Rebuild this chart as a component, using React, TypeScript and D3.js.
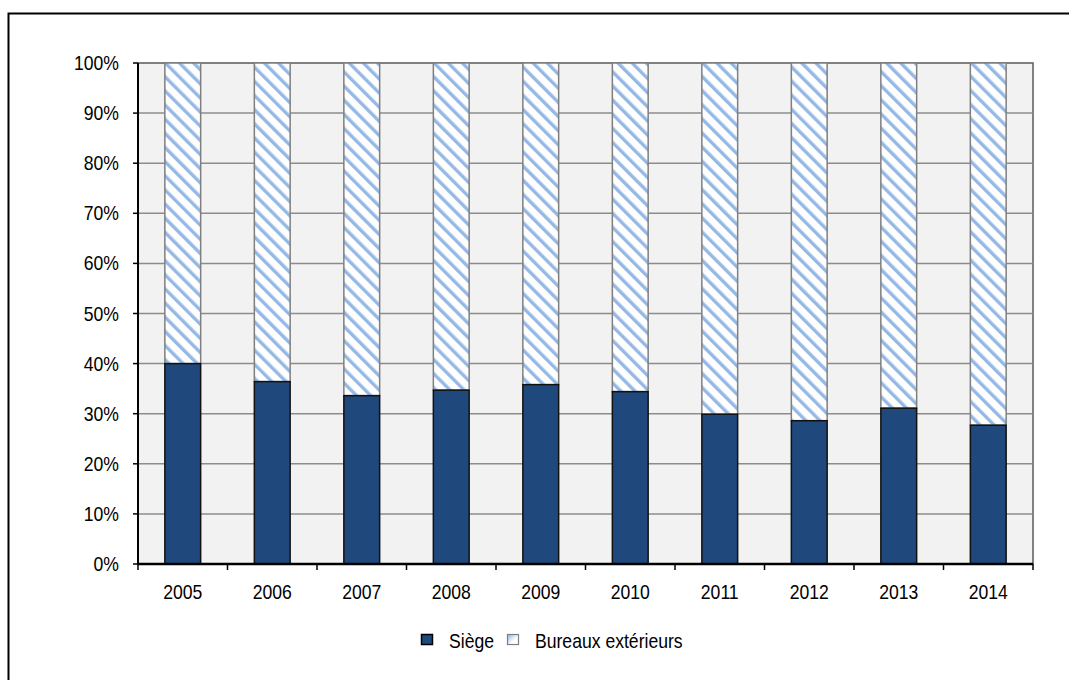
import React from "react";
import * as d3 from "d3";

const years = ["2005","2006","2007","2008","2009","2010","2011","2012","2013","2014"];
const siege = [40.0, 36.4, 33.6, 34.7, 35.8, 34.4, 29.9, 28.6, 31.1, 27.7];
const yTicks = [0,10,20,30,40,50,60,70,80,90,100];
const seriesNames = ["Siège", "Bureaux extérieurs"];

const W = 1069, H = 680;
const M = { left: 138, right: 1033, top: 63, bottom: 564 };
const FONT = "'Liberation Sans', Arial, sans-serif";

function T({ x, y, anchor = "start", children }: { x: number; y: number; anchor?: string; children: any }) {
  return (
    <text transform={`translate(${x},${y}) scale(0.88,1)`} textAnchor={anchor} fontFamily={FONT} fontSize={20} fill="#000">
      {children}
    </text>
  );
}

export default function App() {
  const x = d3.scaleBand().domain(years).range([M.left, M.right]).paddingInner(0.6).paddingOuter(0.3);
  const xb = d3.scaleBand().domain(years).range([M.left, M.right]);
  const y = d3.scaleLinear().domain([0, 100]).range([M.bottom, M.top]);
  const bw = x.bandwidth();
  return (
    <svg width={W} height={H} style={{ position: "absolute", left: 0, top: 0 }}>
      <defs>
        <pattern id="hatch" patternUnits="userSpaceOnUse" width="10" height="10" patternTransform="translate(1,0) rotate(-45)">
          <rect width="10" height="10" fill="#ffffff" />
          <rect x="0" y="0" width="3.4" height="10" fill="#95b9e4" />
        </pattern>
        <linearGradient id="legGrad" x1="0" y1="0" x2="1" y2="1">
          <stop offset="0" stopColor="#8db3e2" />
          <stop offset="0.6" stopColor="#ffffff" />
          <stop offset="1" stopColor="#ffffff" />
        </linearGradient>
      </defs>
      <rect x={0} y={0} width={W} height={H} fill="#fff" />
      <rect x={8.5} y={13.5} width={W + 20} height={H + 20} fill="none" stroke="#000" strokeWidth={2} />
      <rect x={M.left} y={M.top} width={M.right - M.left} height={M.bottom - M.top} fill="#f2f2f2" stroke="#5a5a5a" strokeWidth={1.5} />
      {yTicks.map(t => (
        <g key={t}>
          {t > 0 && t < 100 && <line x1={M.left} x2={M.right} y1={y(t)} y2={y(t)} stroke="#8c8c8c" strokeWidth={1.5} />}
          <line x1={M.left - 5} x2={M.left} y1={y(t)} y2={y(t)} stroke="#000" strokeWidth={1.5} />
          <T x={119} y={y(t) + 7} anchor="end">{t}%</T>
        </g>
      ))}
      {years.map((yr, i) => (
        <g key={yr}>
          <rect x={x(yr)!} y={y(100)} width={bw} height={y(siege[i]) - y(100)} fill="url(#hatch)" stroke="#7f7f7f" strokeWidth={1.5} />
          <rect x={x(yr)!} y={y(siege[i])} width={bw} height={y(0) - y(siege[i])} fill="#1f497d" stroke="#111" strokeWidth={1.5} />
          <T x={x(yr)! + bw / 2} y={M.bottom + 35} anchor="middle">{yr}</T>
        </g>
      ))}
      {[...years.map(yr => xb(yr)!), M.right].map((v, i) => (
        <line key={i} x1={v} x2={v} y1={M.bottom} y2={M.bottom + 6} stroke="#000" strokeWidth={1.5} />
      ))}
      <line x1={M.left} x2={M.left} y1={M.top} y2={M.bottom} stroke="#000" strokeWidth={2} />
      <line x1={M.left} x2={M.right} y1={M.bottom} y2={M.bottom} stroke="#000" strokeWidth={2.5} />
      <rect x={421.5} y={634.5} width={11} height={10} fill="#1f497d" stroke="#000" strokeWidth={1.5} />
      <T x={449} y={648}>{seriesNames[0]}</T>
      <rect x={507.5} y={634.5} width={11} height={10} fill="url(#legGrad)" stroke="#7f7f7f" strokeWidth={1.2} />
      <T x={535} y={648}>{seriesNames[1]}</T>
    </svg>
  );
}
